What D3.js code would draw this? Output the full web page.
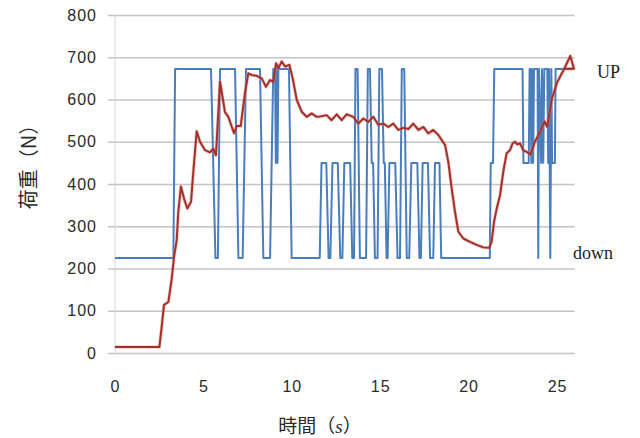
<!DOCTYPE html>
<html>
<head>
<meta charset="utf-8">
<script src="https://cdn.jsdelivr.net/npm/d3@7"></script>
<style>
  body { margin: 0; background: #fff; }
  svg { display: block; }
</style>
</head>
<body>
<div id="chart"></div>
<script>
const width = 640;
const height = 438;

// ------------------
// data (time s, load N)
// ------------------
const xTicks = [0, 5, 10, 15, 20, 25];
const yTicks = [0, 100, 200, 300, 400, 500, 600, 700, 800];
const sideLabels = [["UP", 672], ["down", 225]];

// up/down signal
const signal = [
  [0, 225], [3.30, 225], [3.40, 672], [5.43, 672], [5.68, 225], [5.82, 225], [5.94, 672],
  [6.79, 672], [6.98, 225], [7.22, 225], [7.41, 672], [8.20, 672], [8.39, 225], [8.77, 225],
  [8.95, 672], [9.05, 672], [9.10, 450], [9.16, 672], [9.19, 450], [9.24, 672], [9.84, 672],
  [9.99, 225], [11.58, 225], [11.68, 450], [11.95, 450], [12.08, 225],
  [12.18, 225], [12.30, 450], [12.60, 450], [12.74, 225],
  [12.86, 225], [12.97, 450], [13.30, 450], [13.42, 225],
  [13.52, 225], [13.60, 672], [13.72, 672], [13.85, 225],
  [14.20, 225], [14.30, 672], [14.42, 672], [14.52, 450], [14.60, 450], [14.70, 225],
  [14.85, 225], [14.95, 672], [15.10, 672], [15.20, 450], [15.26, 450], [15.36, 225],
  [15.42, 225], [15.52, 450], [15.85, 450], [15.98, 225],
  [16.12, 225], [16.22, 672], [16.36, 672], [16.50, 225],
  [16.64, 225], [16.76, 450], [17.10, 450], [17.22, 225],
  [17.30, 225], [17.40, 450], [17.70, 450], [17.82, 225],
  [18.00, 225], [18.10, 450], [18.35, 450], [18.45, 225],
  [21.20, 225], [21.25, 450], [21.38, 450], [21.45, 672], [23.05, 672], [23.10, 450],
  [23.40, 450], [23.45, 672], [23.50, 672], [23.55, 450], [23.60, 672], [23.65, 450],
  [23.70, 672], [23.90, 672], [23.94, 225], [23.98, 672], [24.10, 450], [24.15, 672],
  [24.22, 450], [24.28, 672], [24.45, 672], [24.50, 450], [24.55, 672], [24.62, 225],
  [24.68, 672], [24.72, 450], [24.88, 450], [24.92, 672], [25.92, 672]
];

// measured load
const load = [
  [0, 14], [2.51, 14], [2.64, 62], [2.77, 114], [3.02, 121], [3.20, 173], [3.34, 228],
  [3.49, 267], [3.58, 334], [3.73, 394], [3.90, 366], [4.09, 342], [4.30, 358], [4.43, 429],
  [4.62, 525], [4.81, 500], [5.09, 480], [5.37, 475], [5.56, 484], [5.71, 468], [5.94, 642],
  [6.22, 570], [6.41, 559], [6.60, 536], [6.73, 520], [6.88, 537], [7.11, 537], [7.35, 615],
  [7.54, 662], [7.73, 658], [8.01, 656], [8.30, 650], [8.54, 630], [8.77, 646], [8.95, 642],
  [9.11, 686], [9.24, 674], [9.43, 690], [9.62, 678], [9.86, 682], [10.05, 650], [10.28, 599],
  [10.56, 571], [10.84, 559], [11.12, 567], [11.41, 559], [11.60, 560], [11.97, 563],
  [12.25, 551], [12.54, 565], [12.82, 551], [13.10, 565], [13.48, 559], [13.76, 543],
  [14.05, 555], [14.33, 547], [14.61, 559], [14.89, 540], [15.18, 543], [15.46, 535],
  [15.74, 543], [16.02, 528], [16.31, 533], [16.59, 530], [16.87, 543], [17.16, 528],
  [17.44, 535], [17.72, 520], [18.00, 528], [18.29, 516], [18.67, 492], [18.85, 453],
  [19.04, 390], [19.23, 334], [19.42, 287], [19.70, 271], [20.08, 263], [20.46, 256],
  [20.83, 250], [21.17, 249], [21.30, 263], [21.44, 311], [21.59, 342], [21.78, 374],
  [21.96, 429], [22.15, 473], [22.34, 480], [22.49, 496], [22.62, 500], [22.75, 494],
  [22.91, 496], [23.09, 480], [23.28, 476], [23.50, 470], [23.75, 500], [24.00, 520],
  [24.30, 548], [24.45, 535], [24.70, 600], [25.00, 640], [25.40, 672], [25.75, 703],
  [25.96, 673], [25.40, 673]
];

// ------------------
// scales
// ------------------
const x = d3.scaleLinear().domain([0, 26]).range([115, 574.7]);
const y = d3.scaleLinear().domain([0, 800]).range([353, 15]);

const svg = d3.select("#chart")
    .append("svg")
    .attr("width", width)
    .attr("height", height)
    .style("font-family", "'Liberation Serif', 'DejaVu Serif', serif");

// gridlines + y labels
const gridLeft = 108;
const gridRight = 574.7;

const yAxis = svg.append("g")
    .attr("transform", `translate(${gridRight},0)`)
    .call(d3.axisLeft(y)
        .tickValues(yTicks)
        .tickSize(gridRight - gridLeft)
        .tickPadding(11)
        .tickFormat(d3.format("d")));

yAxis.select(".domain").remove();
yAxis.selectAll("line")
    .attr("stroke", "#c4c4c4")
    .attr("stroke-width", 1.5);
yAxis.selectAll("text")
    .style("font-size", "16px")
    .style("letter-spacing", "1px")
    .attr("fill", "#2a2a2a");

// vertical axis line
svg.append("line")
    .attr("x1", x(0))
    .attr("x2", x(0))
    .attr("y1", y(800))
    .attr("y2", y(0))
    .attr("stroke", "#d6d6d6")
    .attr("stroke-width", 1);

// x labels
const xAxis = svg.append("g")
    .attr("transform", `translate(0,${y(0)})`)
    .call(d3.axisBottom(x)
        .tickValues(xTicks)
        .tickSize(0)
        .tickPadding(28));

xAxis.select(".domain").remove();
xAxis.selectAll("text")
    .style("font-size", "16px")
    .style("letter-spacing", "1px")
    .attr("fill", "#2a2a2a");

// ------------------
// lines
// ------------------
const line = d3.line()
    .x(d => x(d[0]))
    .y(d => y(d[1]));

svg.append("path")
    .datum(signal)
    .attr("d", line)
    .attr("fill", "none")
    .attr("stroke", "#4a7dbb")
    .attr("stroke-width", 2)
    .attr("stroke-linejoin", "round");

svg.append("path")
    .datum(load)
    .attr("d", line)
    .attr("fill", "none")
    .attr("stroke", "#e08a86")
    .attr("stroke-width", 3.5)
    .attr("stroke-opacity", 0.45)
    .attr("stroke-linejoin", "round");

svg.append("path")
    .datum(load)
    .attr("d", line)
    .attr("fill", "none")
    .attr("stroke", "#a3302b")
    .attr("stroke-width", 2)
    .attr("stroke-linejoin", "round");

// ------------------
// text
// ------------------
svg.selectAll(".side")
    .data(sideLabels)
    .enter()
    .append("text")
    .attr("x", (d, i) => i === 0 ? 597 : 573)
    .attr("y", d => y(d[1]) + (d[0] === "UP" ? 9 : 1))
    .style("font-size", "18px")
    .attr("fill", "#222")
    .text(d => d[0]);

const xTitle = svg.append("text")
    .attr("x", 320)
    .attr("y", 433)
    .attr("text-anchor", "middle")
    .attr("fill", "#2a2a2a")
    .style("font-family", "'Noto Sans CJK JP', sans-serif")
    .style("font-size", "19px");
xTitle.append("tspan").text("時間（");
xTitle.append("tspan")
    .text("s")
    .style("font-family", "'Liberation Serif', serif")
    .style("font-style", "italic");
xTitle.append("tspan").text("）");

svg.append("text")
    .attr("transform", "translate(36,162) rotate(-90)")
    .attr("text-anchor", "middle")
    .attr("fill", "#2a2a2a")
    .style("font-family", "'Noto Sans CJK JP', sans-serif")
    .style("font-size", "20px")
    .text("荷重（N）");
</script>
</body>
</html>
